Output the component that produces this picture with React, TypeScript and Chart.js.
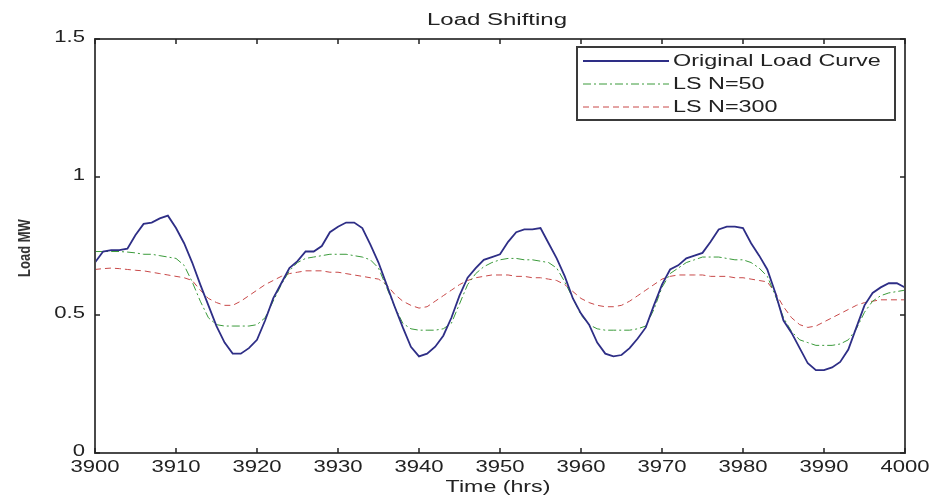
import React, { useEffect, useRef } from "react";
import { Chart, registerables } from "chart.js";

Chart.register(...registerables);

const startHour = 3900;
const xTicks = [3900, 3910, 3920, 3930, 3940, 3950, 3960, 3970, 3980, 3990, 4000];
const yTicks = [0, 0.5, 1, 1.5];

const originalLoad = [
  0.69, 0.73, 0.735, 0.735, 0.74, 0.79, 0.83, 0.835, 0.85, 0.86,
  0.815, 0.76, 0.69, 0.61, 0.535, 0.46, 0.4, 0.36, 0.36, 0.38,
  0.41, 0.48, 0.56, 0.615, 0.67, 0.695, 0.73, 0.73, 0.75, 0.8,
  0.82, 0.835, 0.835, 0.815, 0.755, 0.69, 0.61, 0.53, 0.455, 0.385,
  0.35, 0.36, 0.385, 0.425, 0.49, 0.57, 0.635, 0.67, 0.7, 0.71,
  0.72, 0.765, 0.8, 0.81, 0.81, 0.815, 0.76, 0.705, 0.64, 0.56,
  0.505, 0.465, 0.4, 0.36, 0.35, 0.355, 0.38, 0.415, 0.455, 0.535,
  0.61, 0.665, 0.68, 0.705, 0.715, 0.725, 0.765, 0.81, 0.82, 0.82,
  0.815, 0.76, 0.715, 0.665, 0.58, 0.48, 0.435, 0.38, 0.325, 0.3,
  0.3, 0.31, 0.33, 0.375, 0.455, 0.535, 0.58, 0.6, 0.615, 0.615,
  0.6,
];

const lsN50 = [
  0.73, 0.73, 0.73, 0.73, 0.728, 0.725, 0.72, 0.72, 0.715, 0.71,
  0.705, 0.68, 0.62, 0.55, 0.49, 0.465, 0.46, 0.46, 0.46, 0.46,
  0.465, 0.49, 0.55, 0.61, 0.66, 0.69, 0.705, 0.71, 0.715, 0.72,
  0.72, 0.72, 0.715, 0.71, 0.7, 0.67, 0.6, 0.53, 0.47, 0.45,
  0.445, 0.445, 0.445, 0.45, 0.47, 0.54, 0.61, 0.65, 0.675, 0.69,
  0.7, 0.705, 0.705, 0.7, 0.7, 0.695, 0.69, 0.67, 0.62, 0.56,
  0.5, 0.465, 0.45, 0.445, 0.445, 0.445, 0.445, 0.45, 0.46, 0.52,
  0.6, 0.65, 0.67, 0.69, 0.7, 0.71, 0.71, 0.71, 0.705, 0.7,
  0.7, 0.69, 0.67, 0.64, 0.57, 0.49, 0.44, 0.41, 0.4, 0.39,
  0.39, 0.39, 0.395, 0.41, 0.45, 0.51, 0.55, 0.57, 0.58, 0.585,
  0.59,
];

const lsN300 = [
  0.665, 0.668, 0.67, 0.668, 0.665, 0.662, 0.66, 0.655, 0.65, 0.645,
  0.64, 0.635, 0.625, 0.59, 0.56, 0.545, 0.535, 0.535, 0.55, 0.57,
  0.59, 0.61, 0.625, 0.64, 0.65, 0.655, 0.66, 0.66, 0.66, 0.655,
  0.655, 0.65, 0.645, 0.64, 0.635, 0.63, 0.61, 0.575, 0.55, 0.535,
  0.525, 0.53, 0.55, 0.57, 0.59, 0.61, 0.625, 0.635, 0.64, 0.645,
  0.645, 0.645, 0.64, 0.64, 0.635, 0.635, 0.63, 0.625, 0.61, 0.585,
  0.56, 0.545, 0.535, 0.53, 0.53, 0.535, 0.55, 0.57, 0.59, 0.61,
  0.63, 0.64, 0.645, 0.645, 0.645, 0.645, 0.64, 0.64, 0.64, 0.635,
  0.635, 0.63, 0.625, 0.62, 0.58, 0.53, 0.49, 0.465, 0.455, 0.46,
  0.475, 0.49, 0.505, 0.52, 0.535, 0.545, 0.55, 0.555, 0.555, 0.555,
  0.555,
];

const seriesNames = ["Original Load Curve", "LS N=50", "LS N=300"];
const titleText = "Load Shifting";
const xTitleText = "Time (hrs)";
const yTitleText = "Load MW";
const FONT = "'Liberation Sans', Arial, Helvetica, sans-serif";

const toPoints = (vals: number[]) => vals.map((v, i) => ({ x: startHour + i, y: v }));

function stretchText(
  ctx: CanvasRenderingContext2D,
  text: string,
  x: number,
  y: number,
  size: number,
  align: CanvasTextAlign,
  sx: number
) {
  ctx.save();
  ctx.translate(x, y);
  ctx.scale(sx, 1);
  ctx.font = `${size}px ${FONT}`;
  ctx.fillStyle = "#222";
  ctx.textAlign = align;
  ctx.textBaseline = "middle";
  ctx.fillText(text, 0, 0);
  ctx.restore();
}

const matlabPlugin = {
  id: "matlabDecor",
  afterDraw(chart: any) {
    const { ctx, chartArea } = chart;
    const { left, right, top, bottom } = chartArea;
    const xs = chart.scales.x;
    const ys = chart.scales.y;
    ctx.save();
    // box
    ctx.strokeStyle = "#4a4a4a";
    ctx.lineWidth = 2;
    ctx.setLineDash([]);
    ctx.strokeRect(left, top, right - left, bottom - top);
    // inward ticks + labels
    ctx.lineWidth = 1.5;
    ctx.strokeStyle = "#222";
    const tl = 5;
    xTicks.forEach((t) => {
      const px = xs.getPixelForValue(t);
      ctx.beginPath();
      ctx.moveTo(px, bottom);
      ctx.lineTo(px, bottom - tl);
      ctx.moveTo(px, top);
      ctx.lineTo(px, top + tl);
      ctx.stroke();
      stretchText(ctx, String(t), px, bottom + 14, 17, "center", 1.3);
    });
    yTicks.forEach((t) => {
      const py = ys.getPixelForValue(t);
      ctx.beginPath();
      ctx.moveTo(left, py);
      ctx.lineTo(left + tl, py);
      ctx.moveTo(right, py);
      ctx.lineTo(right - tl, py);
      ctx.stroke();
      stretchText(ctx, String(t), left - 10, py - 2, 17, "right", 1.3);
    });
    // titles
    stretchText(ctx, titleText, (left + right) / 2 - 3, 21, 16, "center", 1.5);
    stretchText(ctx, xTitleText, (left + right) / 2 - 2, 488, 16, "center", 1.45);
    ctx.save();
    ctx.translate(25, 248);
    ctx.rotate(-Math.PI / 2);
    ctx.scale(1, 1.3);
    ctx.font = `bold 13px ${FONT}`;
    ctx.fillStyle = "#333";
    ctx.textAlign = "center";
    ctx.textBaseline = "middle";
    ctx.fillText(yTitleText, 0, 0);
    ctx.restore();
    // legend
    const lx = 577, ly = 47, lw = 318, lh = 73;
    ctx.fillStyle = "#fff";
    ctx.fillRect(lx, ly, lw, lh);
    ctx.strokeStyle = "#3a3a3a";
    ctx.lineWidth = 2;
    ctx.strokeRect(lx, ly, lw, lh);
    const rows = [61, 84, 107];
    chart.data.datasets.forEach((ds: any, i: number) => {
      const y = rows[i];
      ctx.strokeStyle = ds.borderColor;
      ctx.lineWidth = ds.borderWidth;
      ctx.setLineDash(ds.borderDash || []);
      ctx.beginPath();
      ctx.moveTo(lx + 6, y);
      ctx.lineTo(lx + 92, y);
      ctx.stroke();
      ctx.setLineDash([]);
      stretchText(ctx, ds.label, lx + 96, y + 1, 16, "left", 1.46);
    });
    ctx.restore();
  },
};

export default function App() {
  const ref = useRef<HTMLCanvasElement | null>(null);
  useEffect(() => {
    if (!ref.current) return;
    const chart = new Chart(ref.current, {
      type: "line",
      data: {
        datasets: [
          {
            label: seriesNames[0],
            data: toPoints(originalLoad),
            borderColor: "#2e2e86",
            borderWidth: 1.8,
            pointRadius: 0,
            tension: 0,
          },
          {
            label: seriesNames[1],
            data: toPoints(lsN50),
            borderColor: "#3a9a3a",
            borderWidth: 1,
            borderDash: [8, 3, 2, 3],
            pointRadius: 0,
            tension: 0,
          },
          {
            label: seriesNames[2],
            data: toPoints(lsN300),
            borderColor: "#c84848",
            borderWidth: 1,
            borderDash: [6, 4],
            pointRadius: 0,
            tension: 0,
          },
        ],
      },
      options: {
        responsive: false,
        animation: false,
        layout: { padding: { top: 39, right: 27, left: 0, bottom: 0 } },
        plugins: {
          legend: { display: false },
          title: { display: false },
          tooltip: { enabled: false },
        },
        scales: {
          x: {
            type: "linear",
            min: 3900,
            max: 4000,
            afterFit: (s: any) => { s.height = 47; },
            grid: { display: false },
            border: { display: false },
            ticks: { display: false },
          },
          y: {
            min: 0,
            max: 1.5,
            afterFit: (s: any) => { s.width = 95; },
            grid: { display: false },
            border: { display: false },
            ticks: { display: false },
          },
        },
      },
      plugins: [matlabPlugin],
    });
    return () => chart.destroy();
  }, []);
  return (
    <div style={{ position: "absolute", left: 0, top: 0, width: 932, height: 500, background: "#fff" }}>
      <canvas ref={ref} width={932} height={500} style={{ display: "block" }} />
    </div>
  );
}
